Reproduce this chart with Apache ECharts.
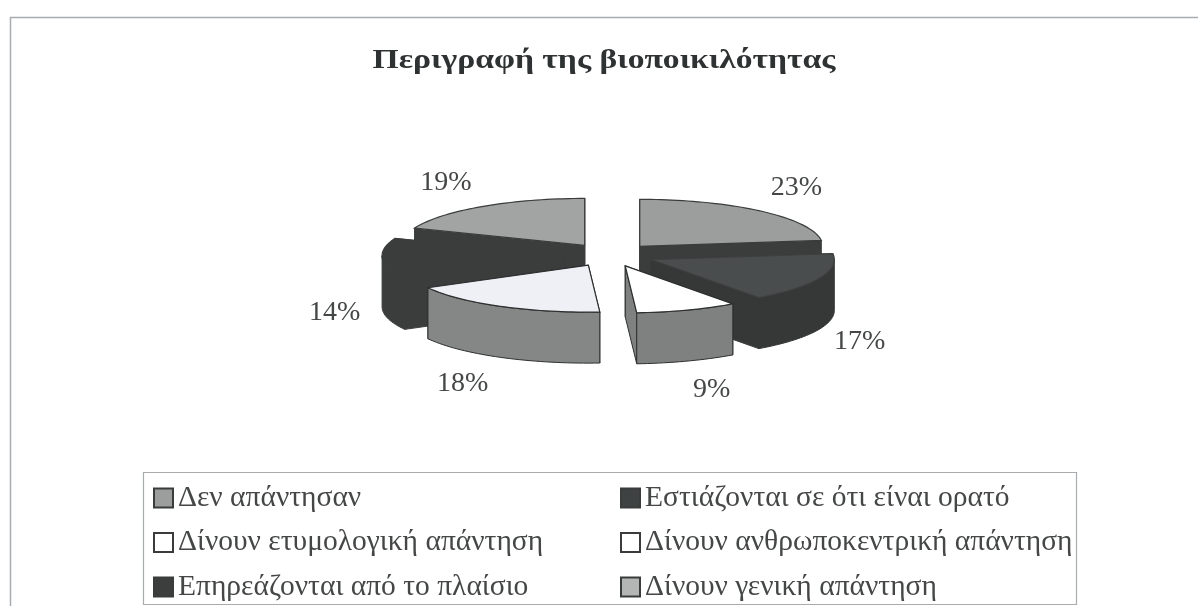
<!DOCTYPE html>
<html>
<head>
<meta charset="utf-8">
<style>html,body{margin:0;padding:0;background:#fff}#c{width:1198px;height:606px}</style>
<script src="https://cdn.jsdelivr.net/npm/echarts@6/dist/echarts.min.js"></script>
</head>
<body>
<div id="c"></div>
<script>
// Data, clockwise from 12 o'clock
const categories = ['Δεν απάντησαν','Εστιάζονται σε ότι είναι ορατό','Δίνουν ετυμολογική απάντηση','Δίνουν ανθρωποκεντρική απάντηση','Επηρεάζονται από το πλαίσιο','Δίνουν γενική απάντηση'];
const values = [23,17,9,18,14,19];
const legendLeft = [categories[0],categories[2],categories[4]];
const legendRight = [categories[1],categories[3],categories[5]];
const titleText = 'Περιγραφή της βιοποικιλότητας';

// Styles and projection
const topColors = ['#9c9d9d','#4a4d4d','#ffffff','#eef0f6','#3b3d3d','#a2a3a3'];
const sideColors = ['#3b3d3d','#363838','#7f8080','#858686','#3b3d3d','#3b3d3d'];
const edgeColors = ['#3b3d3d','#363838','#2e3030','#2e3030','#3b3d3d','#3b3d3d'];
const topEdges = ['#3a3c3c','#3e4040','#2e3030','#2e3030','#3b3d3d','#3a3c3c'];
const legendColors = ['#9c9d9d','#3f4242','#ffffff','#ffffff','#3c3e3e','#b4b5b5'];
const labelNudge = [[-3,0],[-13,1],[4,0],[-11,0],[8,2],[-5,2]];
const CX=610, CY=255, RX=183, RY=47, DEPTH=51, EXPLODE=45, LX=285, LY=90;
const total = values.reduce((a,b)=>a+b,0);
const TAU = Math.PI*2;

function sliceGeometry(i){
  let before = 0;
  for(let k=0;k<i;k++) before += values[k];
  const a = before/total*TAU, b = (before+values[i])/total*TAU, m=(a+b)/2;
  const ox = CX+EXPLODE*Math.sin(m), oy = CY-EXPLODE*Math.cos(m)*RY/RX;
  const pt = (t,d)=>[ox+RX*Math.sin(t), oy-RY*Math.cos(t)+(d||0)];
  return {a,b,m,ox,oy,pt};
}
function arcPts(g,from,to,d){
  const n = Math.max(2,Math.ceil((to-from)/0.03)), out=[];
  for(let k=0;k<=n;k++) out.push(g.pt(from+(to-from)*k/n,d));
  return out;
}
function makeRender(i){
  return function(){
    const g = sliceGeometry(i);
    const apex=[g.ox,g.oy], apexLow=[g.ox,g.oy+DEPTH];
    const face = (t)=>[apex,g.pt(t),g.pt(t,DEPTH),apexLow];
    const side = {fill:sideColors[i],stroke:edgeColors[i],lineWidth:1};
    const kids = [
      {type:'polygon',shape:{points:face(g.a)},style:side},
      {type:'polygon',shape:{points:face(g.b)},style:side}
    ];
    const s = Math.max(g.a,Math.PI/2), e = Math.min(g.b,Math.PI*1.5);
    if(e>s){
      kids.push({type:'polygon',shape:{points:arcPts(g,s,e,0).concat(arcPts(g,s,e,DEPTH).reverse())},style:side});
    }
    kids.push({type:'polygon',shape:{points:[apex].concat(arcPts(g,g.a,g.b,0))},style:{fill:topColors[i],stroke:topEdges[i],lineWidth:1.2}});
    const low = Math.cos(g.m)<0 ? 50 : 0;
    kids.push({type:'text',style:{
      x:611+LX*Math.sin(g.m)+labelNudge[i][0], y:255-LY*Math.cos(g.m)+low+labelNudge[i][1],
      text:values[i]+'%',fill:'#454747',font:'28px "Liberation Serif"',align:'center',verticalAlign:'middle'}});
    return {type:'group',children:kids};
  };
}
function depthOrder(i){ return Math.round(-Math.cos(sliceGeometry(i).m)*100)+100; }

const series = categories.map((name,i)=>({
  type:'custom',name,coordinateSystem:'none',silent:true,animation:false,
  z:depthOrder(i)/10+2,
  itemStyle:{color:legendColors[i],borderColor:'#3a3c3c',borderWidth:1.5},
  data:[values[i]],
  renderItem:makeRender(i)
}));
const legendBase = {orient:'vertical',top:483,height:200,padding:0,icon:'rect',itemWidth:19,itemHeight:19,itemGap:14.5,selectedMode:false,
  textStyle:{fontFamily:'Liberation Serif',fontSize:29.5,color:'#454747',padding:0}};

const chart = echarts.init(document.getElementById('c'),null,{renderer:'canvas'});
chart.setOption({
  backgroundColor:'#ffffff',animation:false,
  legend:[
    Object.assign({},legendBase,{data:legendLeft,left:153}),
    Object.assign({},legendBase,{data:legendRight,left:620})
  ],
  graphic:[
    {type:'polyline',z:-1,shape:{points:[[10.5,606],[10.5,17.5],[1198,17.5]]},style:{fill:'none',stroke:'#a9acae',lineWidth:1.5}},
    {type:'rect',z:-1,shape:{x:143.5,y:472.5,width:933,height:132},style:{fill:'none',stroke:'#a9acae',lineWidth:1.2}},
    {type:'text',x:604,y:61,scaleX:1.2,style:{text:titleText,font:'bold 28px "Liberation Serif"',fill:'#2f3232',align:'center',verticalAlign:'middle'}}
  ],
  series
});
</script>
</body>
</html>
